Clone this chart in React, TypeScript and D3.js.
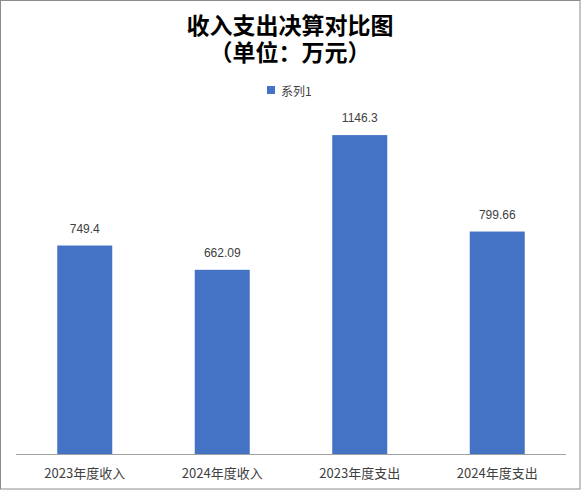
import React from 'react';
import * as d3 from 'd3';

const categories = ['2023年度收入', '2024年度收入', '2023年度支出', '2024年度支出'];
const values = [749.4, 662.09, 1146.3, 799.66];
const valueLabels = ['749.4', '662.09', '1146.3', '799.66'];
const seriesName = '系列1';
const titleLines = ['收入支出决算对比图', '（单位：万元）'];

const width = 581;
const height = 490;
const margin = { top: 120, right: 15, bottom: 36, left: 16 };
const barColor = '#4472c4';
const textColor = '#404040';
const font = '"Noto Sans CJK SC", "Liberation Sans", Arial, sans-serif';
// latin font first keeps the line box short, CJK glyphs fall back to Noto
const titleFont = '"Liberation Sans", "Noto Sans CJK SC", sans-serif';

export default function App() {
    const x = d3.scaleBand<string>()
        .domain(categories)
        .range([margin.left, width - margin.right])
        .paddingInner(0.6)
        .paddingOuter(0.3);

    const baseline = height - margin.bottom;
    // 1200 maps to y=120.4, i.e. about 0.278 px per unit
    const y = d3.scaleLinear().domain([0, 1200]).range([baseline, baseline - 1200 * 0.2782]);

    return (
        <svg width={width} height={height} style={{ position: 'absolute', left: 0, top: 0 }}>
            <rect x={0.5} y={0.5} width={width - 1.5} height={height - 1.5} fill="#fff" stroke="#8c8c8c" />

            {titleLines.map((t, i) => (
                <text key={t} x={290} y={34 + i * 27} textAnchor="middle"
                    fontFamily={titleFont} fontWeight="bold" fontSize={23} fill="#000">{t}</text>
            ))}

            <g>
                <rect x={267} y={86} width={8} height={8} fill={barColor} />
                <text x={281} y={90} dominantBaseline="central" fontFamily={font} fontSize={12} fill={textColor}>{seriesName}</text>
            </g>

            {categories.map((c, i) => (
                <g key={c}>
                    <rect x={x(c)} y={y(values[i])} width={x.bandwidth()} height={baseline - y(values[i])} fill={barColor} />
                    <text x={(x(c) as number) + x.bandwidth() / 2} y={y(values[i]) - 17} textAnchor="middle"
                        dominantBaseline="central" fontFamily="'Liberation Sans', Arial, sans-serif" fontSize={12} fill={textColor}>
                        {valueLabels[i]}
                    </text>
                    <text x={(x(c) as number) + x.bandwidth() / 2} y={472} textAnchor="middle" dominantBaseline="central"
                        fontFamily={font} fontSize={13} fill={textColor}>{c}</text>
                </g>
            ))}

            <line x1={margin.left} x2={width - margin.right} y1={baseline + 0.5} y2={baseline + 0.5} stroke="#a0a0a0" />
        </svg>
    );
}
